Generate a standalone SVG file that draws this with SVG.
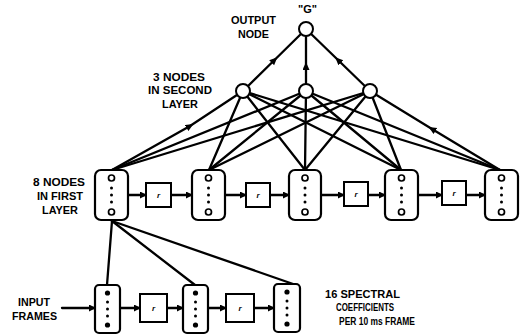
<svg xmlns="http://www.w3.org/2000/svg" width="526" height="336" viewBox="0 0 526 336">
<style>
.ln{fill:none;stroke:#000;stroke-width:2.3;stroke-linecap:round}
.fr{fill:#fff;stroke:#000;stroke-width:2.2}
.rb{fill:#fff;stroke:#000;stroke-width:2}
.nd{fill:#fff;stroke:#000;stroke-width:2}
.oc{fill:#fff;stroke:#000;stroke-width:1.7}
.dt{fill:#000}
.lb{font-family:"Liberation Sans",Arial,sans-serif;font-weight:bold;font-size:10px;fill:#000}
.rt{font-family:"Liberation Sans",Arial,sans-serif;font-weight:bold;font-style:italic;font-size:8px;fill:#000;text-anchor:middle}
</style>
<defs>
<marker id="ah" markerUnits="userSpaceOnUse" markerWidth="9" markerHeight="8" refX="6" refY="3.5" orient="auto"><path d="M0,0 L7,3.5 L0,7 Z" fill="#000"/></marker>
<marker id="am" markerUnits="userSpaceOnUse" markerWidth="10" markerHeight="10" refX="4" refY="3.5" orient="auto"><path d="M0,0 L8,3.5 L0,7 Z" fill="#000"/></marker>
</defs>

<g id="connectors">
<path class="ln" d="M243,91 L274.5,60 L306,29" marker-mid="url(#am)"/>
<path class="ln" d="M306,91 L306,66 L306,29" marker-mid="url(#am)"/>
<path class="ln" d="M370,91 L338,60 L306,29" marker-mid="url(#am)"/>
<path class="ln" d="M112,170 L190,126 L243,91" marker-mid="url(#am)"/>
<path class="ln" d="M112,170 L306,91"/>
<path class="ln" d="M112,170 L370,91"/>
<path class="ln" d="M209,170 L243,91"/>
<path class="ln" d="M209,170 L306,91"/>
<path class="ln" d="M209,170 L370,91"/>
<path class="ln" d="M305,170 L243,91"/>
<path class="ln" d="M305,170 L306,91"/>
<path class="ln" d="M305,170 L370,91"/>
<path class="ln" d="M401,170 L243,91"/>
<path class="ln" d="M401,170 L306,91"/>
<path class="ln" d="M401,170 L370,91"/>
<path class="ln" d="M500,170 L243,91"/>
<path class="ln" d="M500,170 L306,91"/>
<path class="ln" d="M500,170 L432,129 L370,91" marker-mid="url(#am)"/>
<path class="ln" d="M128,195 L146,195" marker-end="url(#ah)"/>
<path class="ln" d="M171,195 L192,195" marker-end="url(#ah)"/>
<path class="ln" d="M225,195 L246,195" marker-end="url(#ah)"/>
<path class="ln" d="M270,195 L289,195" marker-end="url(#ah)"/>
<path class="ln" d="M321,195 L344,195" marker-end="url(#ah)"/>
<path class="ln" d="M368,195 L385,195" marker-end="url(#ah)"/>
<path class="ln" d="M418,195 L442,195" marker-end="url(#ah)"/>
<path class="ln" d="M466,195 L485,195" marker-end="url(#ah)"/>
<path class="ln" d="M112,221 L107,285"/>
<path class="ln" d="M112,221 L195,285"/>
<path class="ln" d="M112,221 L296,285"/>
<path class="ln" d="M62,308 L95,308" marker-end="url(#ah)"/>
<path class="ln" d="M120,308 L140,308" marker-end="url(#ah)"/>
<path class="ln" d="M167,308 L183,308" marker-end="url(#ah)"/>
<path class="ln" d="M208,308 L226,308" marker-end="url(#ah)"/>
<path class="ln" d="M254,308 L274,308" marker-end="url(#ah)"/>
</g>

<g id="output-node"><circle class="nd" cx="306" cy="29" r="7"/></g>
<g id="hidden-1"><circle class="nd" cx="243" cy="91" r="7"/></g>
<g id="hidden-2"><circle class="nd" cx="306" cy="91" r="7"/></g>
<g id="hidden-3"><circle class="nd" cx="370" cy="91" r="7"/></g>

<g id="first-1"><rect class="fr" x="95" y="170" width="33" height="50" rx="6"/><circle class="oc" cx="111.5" cy="178" r="3"/><circle class="dt" cx="111.5" cy="188" r="1.5"/><circle class="dt" cx="111.5" cy="195" r="1.5"/><circle class="dt" cx="111.5" cy="202" r="1.5"/><circle class="oc" cx="111.5" cy="212" r="3"/></g>
<g id="first-2"><rect class="fr" x="192" y="170" width="33" height="50" rx="6"/><circle class="oc" cx="208.5" cy="178" r="3"/><circle class="dt" cx="208.5" cy="188" r="1.5"/><circle class="dt" cx="208.5" cy="195" r="1.5"/><circle class="dt" cx="208.5" cy="202" r="1.5"/><circle class="oc" cx="208.5" cy="212" r="3"/></g>
<g id="first-3"><rect class="fr" x="289" y="170" width="32" height="50" rx="6"/><circle class="oc" cx="305" cy="178" r="3"/><circle class="dt" cx="305" cy="188" r="1.5"/><circle class="dt" cx="305" cy="195" r="1.5"/><circle class="dt" cx="305" cy="202" r="1.5"/><circle class="oc" cx="305" cy="212" r="3"/></g>
<g id="first-4"><rect class="fr" x="385" y="170" width="33" height="50" rx="6"/><circle class="oc" cx="401.5" cy="178" r="3"/><circle class="dt" cx="401.5" cy="188" r="1.5"/><circle class="dt" cx="401.5" cy="195" r="1.5"/><circle class="dt" cx="401.5" cy="202" r="1.5"/><circle class="oc" cx="401.5" cy="212" r="3"/></g>
<g id="first-5"><rect class="fr" x="485" y="170" width="33" height="50" rx="6"/><circle class="oc" cx="501.5" cy="178" r="3"/><circle class="dt" cx="501.5" cy="188" r="1.5"/><circle class="dt" cx="501.5" cy="195" r="1.5"/><circle class="dt" cx="501.5" cy="202" r="1.5"/><circle class="oc" cx="501.5" cy="212" r="3"/></g>

<g id="delay-1"><rect class="rb" x="146" y="183" width="25" height="24"/><text class="rt" x="158.5" y="198">r</text></g>
<g id="delay-2"><rect class="rb" x="246" y="183" width="24" height="24"/><text class="rt" x="258" y="198">r</text></g>
<g id="delay-3"><rect class="rb" x="344" y="182" width="24" height="24"/><text class="rt" x="356" y="197">r</text></g>
<g id="delay-4"><rect class="rb" x="442" y="181" width="24" height="24"/><text class="rt" x="454" y="196">r</text></g>

<g id="input-1"><rect class="fr" x="95" y="285" width="25" height="48" rx="4"/><circle class="dt" cx="107.5" cy="293" r="2.6"/><circle class="dt" cx="107.5" cy="302" r="1.5"/><circle class="dt" cx="107.5" cy="309" r="1.5"/><circle class="dt" cx="107.5" cy="316" r="1.5"/><circle class="dt" cx="107.5" cy="325" r="2.6"/></g>
<g id="input-2"><rect class="fr" x="183" y="285" width="25" height="48" rx="4"/><circle class="dt" cx="195.5" cy="293" r="2.6"/><circle class="dt" cx="195.5" cy="302" r="1.5"/><circle class="dt" cx="195.5" cy="309" r="1.5"/><circle class="dt" cx="195.5" cy="316" r="1.5"/><circle class="dt" cx="195.5" cy="325" r="2.6"/></g>
<g id="input-3"><rect class="fr" x="274" y="284" width="26" height="48" rx="4"/><circle class="dt" cx="287" cy="292" r="2.6"/><circle class="dt" cx="287" cy="301" r="1.5"/><circle class="dt" cx="287" cy="308" r="1.5"/><circle class="dt" cx="287" cy="315" r="1.5"/><circle class="dt" cx="287" cy="324" r="2.6"/></g>

<g id="in-delay-1"><rect class="rb" x="140" y="294" width="27" height="28"/><text class="rt" x="153.5" y="311">r</text></g>
<g id="in-delay-2"><rect class="rb" x="226" y="294" width="28" height="28"/><text class="rt" x="240" y="311">r</text></g>

<g id="labels">
<text class="lb" x="298" y="13" font-size="8" textLength="19" lengthAdjust="spacingAndGlyphs">"G"</text>
<text class="lb" x="231" y="24" textLength="45" lengthAdjust="spacingAndGlyphs">OUTPUT</text>
<text class="lb" x="238" y="38" textLength="31" lengthAdjust="spacingAndGlyphs">NODE</text>
<text class="lb" x="153" y="81" textLength="52" lengthAdjust="spacingAndGlyphs">3 NODES</text>
<text class="lb" x="148" y="94" textLength="64" lengthAdjust="spacingAndGlyphs">IN SECOND</text>
<text class="lb" x="162" y="108" textLength="36" lengthAdjust="spacingAndGlyphs">LAYER</text>
<text class="lb" x="33" y="186" textLength="52" lengthAdjust="spacingAndGlyphs">8 NODES</text>
<text class="lb" x="37" y="200" textLength="46" lengthAdjust="spacingAndGlyphs">IN FIRST</text>
<text class="lb" x="42" y="214" textLength="36" lengthAdjust="spacingAndGlyphs">LAYER</text>
<text class="lb" x="18" y="306" textLength="32" lengthAdjust="spacingAndGlyphs">INPUT</text>
<text class="lb" x="12" y="320" textLength="45" lengthAdjust="spacingAndGlyphs">FRAMES</text>
<text class="lb" x="325" y="298" textLength="75" lengthAdjust="spacingAndGlyphs">16 SPECTRAL</text>
<text class="lb" x="336" y="311" textLength="58" lengthAdjust="spacingAndGlyphs">COEFFICIENTS</text>
<text class="lb" x="339" y="325" textLength="76" lengthAdjust="spacingAndGlyphs">PER 10 ms FRAME</text>
</g>
</svg>
